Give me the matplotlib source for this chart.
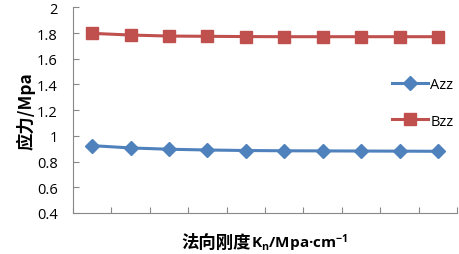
import matplotlib
matplotlib.use('Agg')
import matplotlib.pyplot as plt
import numpy as np

plt.rcParams['font.family'] = ['Open Sans', 'Noto Sans CJK SC', 'DejaVu Sans']
plt.rcParams['mathtext.fontset'] = 'custom'
plt.rcParams['mathtext.rm'] = 'Open Sans:bold'
plt.rcParams['mathtext.it'] = 'Open Sans:bold'
plt.rcParams['mathtext.bf'] = 'Open Sans:bold'

azz = [0.924, 0.906, 0.896, 0.890, 0.886, 0.884, 0.883, 0.882, 0.881, 0.880]
bzz = [1.798, 1.785, 1.777, 1.775, 1.773, 1.772, 1.772, 1.772, 1.772, 1.772]
yticks = [0.4, 0.6, 0.8, 1, 1.2, 1.4, 1.6, 1.8, 2]
ytick_labels = ['0.4', '0.6', '0.8', '1', '1.2', '1.4', '1.6', '1.8', '2']

fig = plt.figure(figsize=(4.59, 2.55), dpi=100)
ax = fig.add_axes([0.159, 0.161, 0.837, 0.806])

x = np.arange(len(azz)) + 0.5
ax.plot(x, azz, color='#4F81BD', lw=2.2, marker='D', ms=7.5, label='Azz')
ax.plot(x, bzz, color='#C0504D', lw=2.2, marker='s', ms=8.5, label='Bzz')

ax.set_xlim(0, len(azz))
ax.set_ylim(0.4, 2)
ax.set_xticks(np.arange(len(azz) + 1))
ax.set_xticklabels([])
ax.set_yticks(yticks)
ax.set_yticklabels(ytick_labels, fontsize=10.5)
ax.tick_params(axis='both', direction='in', length=4, color='#888888', width=0.8)
ax.tick_params(axis='y', pad=11)

for s in ['top', 'right']:
    ax.spines[s].set_visible(False)
for s in ['left', 'bottom']:
    ax.spines[s].set_color('#888888')
    ax.spines[s].set_linewidth(0.8)

ax.set_ylabel('应力/Mpa', fontsize=12.5, fontweight='bold', labelpad=1,
              family=['Noto Sans CJK SC'])

# x label: chinese part and latin part side by side
fig.text(0.547, 0.047, '法向刚度', ha='right', va='center', fontsize=12.5,
         fontweight='bold', family=['Noto Sans CJK SC'])
fig.text(0.547, 0.047, 'K$_\\mathregular{n}$/Mpa·cm$^\\mathregular{-1}$', ha='left',
         va='center', fontsize=11, fontweight='bold', family=['Open Sans'])

ax.legend(loc='center left', bbox_to_anchor=(0.83, 0.535), frameon=False,
          fontsize=10.5, handlelength=2.5, handletextpad=0.15, labelspacing=1.45,
          borderaxespad=0, borderpad=0)

fig.savefig('out.png', dpi=100)
